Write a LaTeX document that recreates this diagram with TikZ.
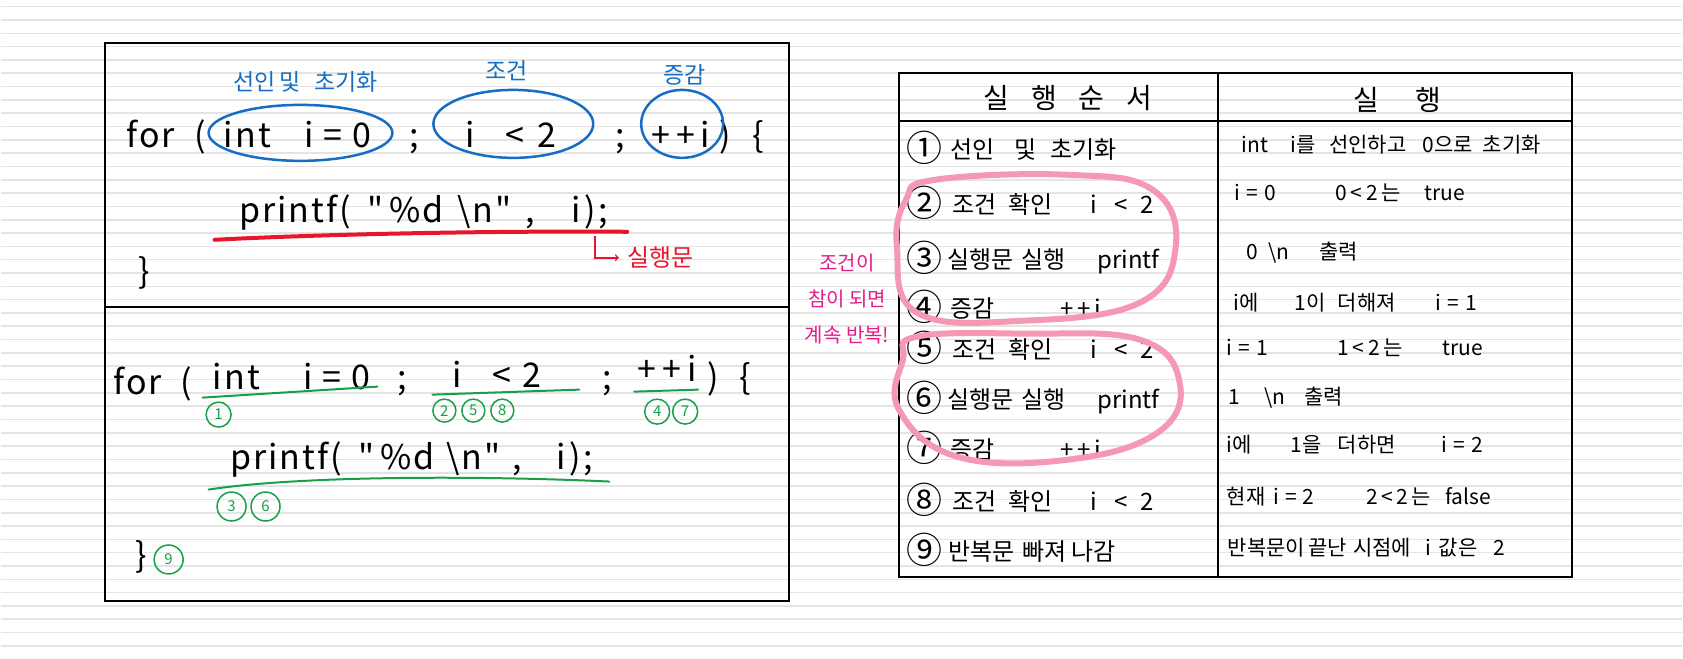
\documentclass[tikz,border=0pt]{standalone}
\usepackage{fontspec}
\setmainfont{Noto Sans CJK KR}
\newfontfamily\handfont[LetterSpace=6]{Noto Sans CJK KR}
\newcommand{\stepno}[1]{\raisebox{-3pt}{\fontsize{36}{36}\selectfont #1}}
\definecolor{penblue}{RGB}{22,110,196}
\definecolor{penred}{RGB}{232,22,44}
\definecolor{pengreen}{RGB}{24,160,72}
\definecolor{penpink}{RGB}{244,152,180}
\definecolor{penmagenta}{RGB}{226,30,140}
\definecolor{ruleline}{RGB}{228,228,228}

\begin{document}
\begin{tikzpicture}[x=1pt, y=-1pt,
    code/.style={anchor=base, inner sep=0pt, font=\handfont\fontsize{34}{34}\selectfont},
    tag/.style={inner sep=0pt, text=penblue, font=\fontsize{23}{23}\selectfont},
    num/.style={circle, draw=pengreen, line width=1.5pt, text=pengreen, minimum size=25pt, inner sep=0pt, font=\fontsize{15}{15}\selectfont},
    stepcol/.style={anchor=west, inner sep=0pt, font=\fontsize{24}{24}\selectfont},
    runcol/.style={anchor=west, inner sep=0pt, font=\fontsize{21}{21}\selectfont},
    headcell/.style={inner sep=0pt, font=\fontsize{28}{28}\selectfont},
    blueloop/.style={penblue, line width=2.5pt},
    greenline/.style={pengreen, line width=2pt, line cap=round},
    pinkloop/.style={penpink, line width=6pt, line cap=round}]

    % 배경 (줄 노트)
    \fill[white] (0,0) rectangle (1683,659);
    \foreach \k in {0,...,48}
        \draw[ruleline, line width=1.6pt] (0,6.67+13.33*\k) -- (1683,6.67+13.33*\k);
    \useasboundingbox (0,0) rectangle (1683,659);

    % 왼쪽 틀
    \draw[line width=2pt] (104,43) rectangle (789,602);
    \draw[line width=2pt] (104,307) -- (789,307);

    % 위: for 문
    \node[code] (for1) at (150,148) {for};
    \node[code] (open1) at (200,148) {(};
    \node[code] (init1) at (297,148) {int\quad i = 0};
    \node[code] (semi1) at (414,148) {;};
    \node[code] (cond1) at (511,148) {i\hspace{30pt}<\hspace{14pt}2};
    \node[code] (semi2) at (620,148) {;};
    \node[code] (inc1) at (681,148) {+\,+\,i};
    \node[code] (close1) at (725,148) {)};
    \node[code] (brace1) at (758,148) {\{};

    % 파란 동그라미와 이름
    \draw[blueloop] (300,133) ellipse [x radius=92, y radius=28];
    \draw[blueloop] (513,124) ellipse [x radius=80, y radius=34];
    \draw[blueloop] (682,124) ellipse [x radius=41, y radius=34];
    \node[tag] (initname) at (305,82) {선인\hspace{4pt}및\hspace{14pt}초기화};
    \node[tag] (condname) at (506,71) {조건};
    \node[tag] (incname) at (684,75) {증감};

    % 실행문
    \node[code] (print1) at (423,223) {printf(\hspace{16pt}"\hspace{6pt}\%d\hspace{14pt}\textbackslash n"\hspace{14pt},\hspace{36pt}i\hspace{4pt});};
    \draw[penred, line width=4pt, line cap=round] (214,240) .. controls (330,234) and (500,231) .. (627,232);
    \node[text=penred, font=\fontsize{24}{24}\selectfont, inner sep=0pt] (exec1) at (660,258) {실행문};
    \coordinate (drop1) at (595,236);
    \draw[penred, line width=1.5pt, ->] (drop1) |- ([xshift=-8pt]exec1.west);
    \node[code, anchor=center] (end1) at (144,273) {\}};

    % 아래: 실행 순서 번호
    \node[code] (for2) at (137,395) {for};
    \node[code] (open2) at (186,395) {(};
    \node[code] (init2) at (291,390) {int\hspace{44pt}i = 0};
    \node[code] (semi3) at (402,390) {;};
    \node[code] (cond2) at (497,388) {i\hspace{30pt}<\hspace{12pt}2};
    \node[code] (semi4) at (607,390) {;};
    \node[code] (inc2) at (667,382) {+\,+\,i};
    \node[code] (close2) at (713,390) {)};
    \node[code] (brace2) at (745,390) {\{};
    \draw[greenline] (202,398) -- (377,387);
    \draw[greenline] (432,395) -- (579,390);
    \draw[greenline] (634,392) -- (698,390);
    \node[num] (n1) at (218,415) {1};
    \node[num, minimum size=23pt] (n2) at (444,411) {2};
    \node[num, minimum size=23pt] (n5) at (473,411) {5};
    \node[num, minimum size=23pt] (n8) at (502,411) {8};
    \node[num] (n4) at (657,412) {4};
    \node[num] (n7) at (685,412) {7};
    \node[code] (print2) at (411,470) {printf(\hspace{16pt}"\hspace{6pt}\%d\hspace{12pt}\textbackslash n"\hspace{12pt},\hspace{34pt}i\hspace{4pt});};
    \draw[greenline] (208,490) .. controls (300,476) and (480,476) .. (609,482);
    \node[num, minimum size=29pt] (n3) at (231,507) {3};
    \node[num, minimum size=29pt] (n6) at (265,507) {6};
    \node[code, anchor=center] (end2) at (141,557) {\}};
    \node[num, minimum size=29pt] (n9) at (168,560) {9};

    % 반복 메모
    \node[text=penmagenta, font=\fontsize{20}{36}\selectfont, align=center, inner sep=0pt] (memo) at (847,299) {조건이\\참이 되면\\계속 반복!};

    % 표
    \draw[line width=2pt] (899,73) rectangle (1573,578);
    \draw[line width=2pt] (1218,73) -- (1218,578);
    \draw[line width=2pt] (899,121) -- (1573,121);
    \node[headcell] (head1) at (1068,98) {실\hspace{22pt}행\hspace{22pt}순\hspace{22pt}서};
    \node[headcell] (head2) at (1398,100) {실\hspace{37pt}행};

    % 실행 순서
    \node[stepcol] (s1) at (906,148) {\stepno{①}\hspace{8pt}선인\hspace{20pt}및\hspace{14pt}초기화};
    \node[stepcol] (s2) at (906,203) {\stepno{②}\hspace{10pt}조건\hspace{12pt}확인\hspace{38pt}i\hspace{18pt}<\hspace{12pt}2};
    \node[stepcol] (s3) at (906,258) {\stepno{③}\hspace{5pt}실행문\hspace{8pt}실행\hspace{32pt}printf};
    \node[stepcol] (s4) at (906,307) {\stepno{④}\hspace{8pt}증감\hspace{66pt}+\,+\,i};
    \node[stepcol] (s5) at (906,348) {\stepno{⑤}\hspace{10pt}조건\hspace{12pt}확인\hspace{38pt}i\hspace{18pt}<\hspace{12pt}2};
    \node[stepcol] (s6) at (906,398) {\stepno{⑥}\hspace{5pt}실행문\hspace{8pt}실행\hspace{32pt}printf};
    \node[stepcol] (s7) at (906,448) {\stepno{⑦}\hspace{8pt}증감\hspace{66pt}+\,+\,i};
    \node[stepcol] (s8) at (906,500) {\stepno{⑧}\hspace{10pt}조건\hspace{12pt}확인\hspace{38pt}i\hspace{18pt}<\hspace{12pt}2};
    \node[stepcol] (s9) at (906,550) {\stepno{⑨}\hspace{6pt}반복문\hspace{8pt}빠져\hspace{5pt}나감};

    % 실행
    \node[runcol] (r1) at (1242,145) {int\hspace{22pt}i를\hspace{14pt}선인하고\hspace{16pt}0으로\hspace{10pt}초기화};
    \node[runcol] (r2) at (1235,193) {i\hspace{6pt}=\hspace{6pt}0\hspace{60pt}0\,<\,2\,는\hspace{24pt}true};
    \node[runcol] (r3) at (1247,253) {0\hspace{10pt}\textbackslash n\hspace{30pt}출력};
    \node[runcol] (r4) at (1234,303) {i에\hspace{36pt}1이\hspace{12pt}더해져\hspace{40pt}i\hspace{6pt}=\hspace{6pt}1};
    \node[runcol] (r5) at (1227,348) {i\hspace{6pt}=\hspace{6pt}1\hspace{70pt}1\,<\,2\,는\hspace{40pt}true};
    \node[runcol] (r6) at (1229,398) {1\hspace{24pt}\textbackslash n\hspace{19pt}출력};
    \node[runcol] (r7) at (1227,445) {i에\hspace{39pt}1을\hspace{16pt}더하면\hspace{46pt}i\hspace{6pt}=\hspace{6pt}2};
    \node[runcol] (r8) at (1227,497) {현재\hspace{8pt}i\hspace{6pt}=\hspace{6pt}2\hspace{52pt}2\,<\,2\,는\hspace{14pt}false};
    \node[runcol] (r9) at (1228,548) {반복문이\,끝난\hspace{6pt}시점에\hspace{14pt}i\hspace{8pt}값은\hspace{16pt}2};

    % 반복 구간 표시
    \draw[pinkloop] plot[smooth cycle, tension=0.7] coordinates {(935,180) (1069,175) (1153,190) (1176,247) (1140,303) (1024,321) (917,313) (897,247) (906,200)};
    \draw[pinkloop] plot[smooth cycle, tension=0.7] coordinates {(917,337) (1024,334) (1140,340) (1180,383) (1158,433) (1069,460) (957,457) (899,410) (903,360)};
\end{tikzpicture}
\end{document}
